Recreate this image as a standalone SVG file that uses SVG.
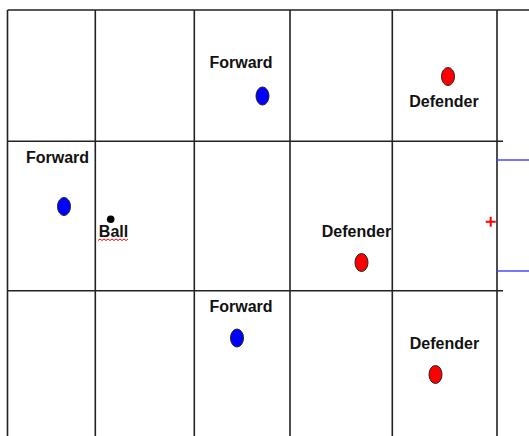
<svg xmlns="http://www.w3.org/2000/svg" width="529" height="436" viewBox="0 0 529 436">
<style>
.grid{stroke:#222;stroke-width:1.6;fill:none}
.blue{stroke:#4a4aff;stroke-width:1.6;fill:none}
.lbl{font-family:"Liberation Sans",Arial,sans-serif;font-size:16px;font-weight:bold;fill:#111;text-anchor:middle}
.fwd{fill:#0000ff;stroke:#222;stroke-width:1}
.def{fill:#ff0000;stroke:#222;stroke-width:1}
</style>
<rect width="529" height="436" fill="#fff"/>
<g id="connectors">
<path class="grid" d="M7.5 10H529M7.5 141.3H503M7.5 290.7H503M7.5 10V436M95.3 10V436M194.3 10V436M290 10V436M392.3 10V436M497 10V436"/>
<path class="blue" d="M497 160H529M497 271H529"/>
<path d="M485.7 221.7H495.7M490.7 216.7V226.7" stroke="#ff0000" stroke-width="2"/>
</g>
<g id="forward1"><text class="lbl" x="241" y="68">Forward</text><ellipse class="fwd" cx="262.5" cy="96" rx="6.5" ry="9"/></g>
<g id="defender1"><ellipse class="def" cx="448" cy="76.5" rx="6.5" ry="9"/><text class="lbl" x="444" y="107">Defender</text></g>
<g id="forward2"><text class="lbl" x="57.5" y="163">Forward</text><ellipse class="fwd" cx="64" cy="206.5" rx="6.5" ry="9"/></g>
<g id="ball"><circle cx="110.7" cy="219.3" r="3.8" fill="#000"/><text class="lbl" x="113.5" y="237">Ball</text><path d="M98 240.5l2 -1.5l2 1.5l2 -1.5l2 1.5l2 -1.5l2 1.5l2 -1.5l2 1.5l2 -1.5l2 1.5l2 -1.5l2 1.5l2 -1.5l2 1.5l2 -1.5" stroke="#ff0000" stroke-width="1" fill="none"/></g>
<g id="defender2"><text class="lbl" x="356.5" y="237">Defender</text><ellipse class="def" cx="361.5" cy="262.5" rx="6.5" ry="9"/></g>
<g id="forward3"><text class="lbl" x="241" y="312">Forward</text><ellipse class="fwd" cx="237" cy="338" rx="6.5" ry="9"/></g>
<g id="defender3"><text class="lbl" x="444.5" y="349">Defender</text><ellipse class="def" cx="435.5" cy="374.5" rx="6.5" ry="9"/></g>
</svg>
